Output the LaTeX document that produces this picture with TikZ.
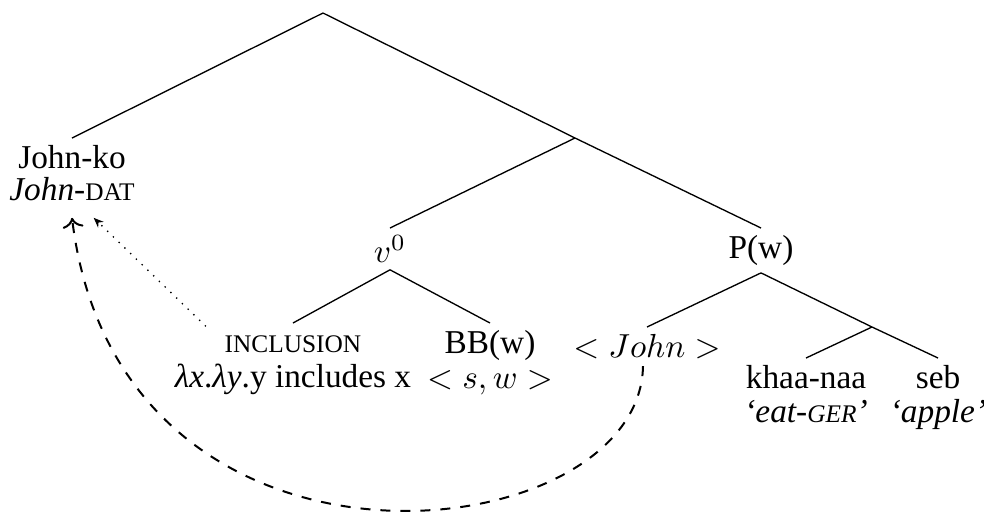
\documentclass[tikz,border=0pt]{standalone}
\usepackage{fontspec}
\setmainfont{Liberation Serif}
\usepackage{tikz}
\usetikzlibrary{arrows.meta,positioning}

% small capitals drawn with a smaller size
\newcommand{\smc}[1]{{\fontsize{7.6}{8}\selectfont #1}}

\begin{document}
\begin{tikzpicture}[x=0.3pt, y=-0.3pt,
    word/.style={inner xsep=1pt, inner ysep=2pt, align=center, anchor=north, font=\fontsize{10}{9.5}\selectfont},
    branch/.style={thin},
    move/.style={-{To[length=3pt]}, dashed, semithick},
    bind/.style={-{Stealth[length=3pt,width=2.4pt]}, dotted}
]
    \useasboundingbox (0,0) rectangle (984,513);

    % Empty branching points
    \coordinate (top) at (323,13);
    \coordinate (vp) at (575,138);
    \coordinate (np) at (872,327);

    % Upper level
    \node[word] (johnko) at (72,138) {John-ko \\ \textit{John}-\smc{DAT}};
    \node[word] (v0) at (390,228) {$v^0$};
    \node[word] (pw) at (761,228) {P(w)};

    % Lower level
    \node[word] (inclusion) at (293,323) {\rule{0pt}{6.5pt}\smc{INCLUSION} \\[1pt] \textit{λx}.\textit{λy}.y includes x};
    \node[word] (bb) at (490,323) {BB(w) \\[1pt] $<s,w>$};
    \node[word] (john) at (647,327) {$<John>$};
    \node[word] (khaa) at (806,358) {khaa-naa \\[0.8pt] \textit{`eat-\smc{GER}'}};
    \node[word] (seb) at (938,358) {seb \\[0.8pt] \textit{`apple'}};

    % Branches
    \draw[branch] (top) -- (johnko.north);
    \draw[branch] (top) -- (vp);
    \draw[branch] (vp) -- (v0.north);
    \draw[branch] (vp) -- (pw.north);
    \draw[branch] (v0.south) -- (inclusion.north);
    \draw[branch] (v0.south) -- (bb.north);
    \draw[branch] (pw.south) -- (john.north);
    \draw[branch] (pw.south) -- (np);
    \draw[branch] (np) -- (khaa.north);
    \draw[branch] (np) -- (seb.north);

    % Binding and movement
    \draw[bind] ([xshift=10.5pt,yshift=-1pt]inclusion.north west) -- ([xshift=6.5pt,yshift=-3pt]johnko.south);
    \draw[move] ([xshift=-1.2pt]john.south) .. controls (640,552) and (120,612) .. ([yshift=-3pt]johnko.south);
\end{tikzpicture}
\end{document}
